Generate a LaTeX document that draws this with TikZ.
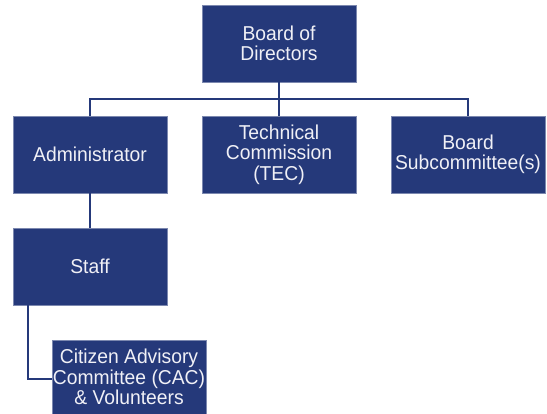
\documentclass[tikz,border=0pt]{standalone}
\usepackage{fontspec}
\setmainfont[FakeStretch=0.96]{Liberation Sans}
\definecolor{navy}{RGB}{37,57,122}
\definecolor{txt}{RGB}{240,240,246}
\begin{document}
\begin{tikzpicture}[x=1pt,y=1pt,
  orgbox/.style={fill=navy, draw=navy!60!white, line width=0.6pt, text=txt,
    minimum width=154pt, minimum height=77pt, inner sep=0pt, align=center,
    font=\fontsize{20.1}{20.5}\selectfont},
  link/.style={draw=navy, line width=2pt}]
\useasboundingbox (0,0) rectangle (547,414);
\node[orgbox] (board) at (279,370.5) {Board of\\Directors};
\node[orgbox] (admin) at (90,259.5) {Administrator};
\node[orgbox] (tec) at (279,259.5) {Technical\\Commission\\(TEC)};
\node[orgbox] (sub) at (468,259.5) {Board\\Subcommittee(s)};
\node[orgbox] (staff) at (90,147.5) {Staff};
\node[orgbox, minimum height=74pt] (cac) at (129,37) {Citizen Advisory\\Committee (CAC)\\\& Volunteers};
\coordinate (bus) at (0,315);
\coordinate (k) at (27.5,35);
\draw[link] (board.south) -- (tec.north);
\draw[link] (admin.north) |- (sub.north |- bus) -- (sub.north);
\draw[link] (admin.south) -- (staff.north);
\draw[link] (staff.south -| k) |- (cac.west |- k);
\end{tikzpicture}
\end{document}
